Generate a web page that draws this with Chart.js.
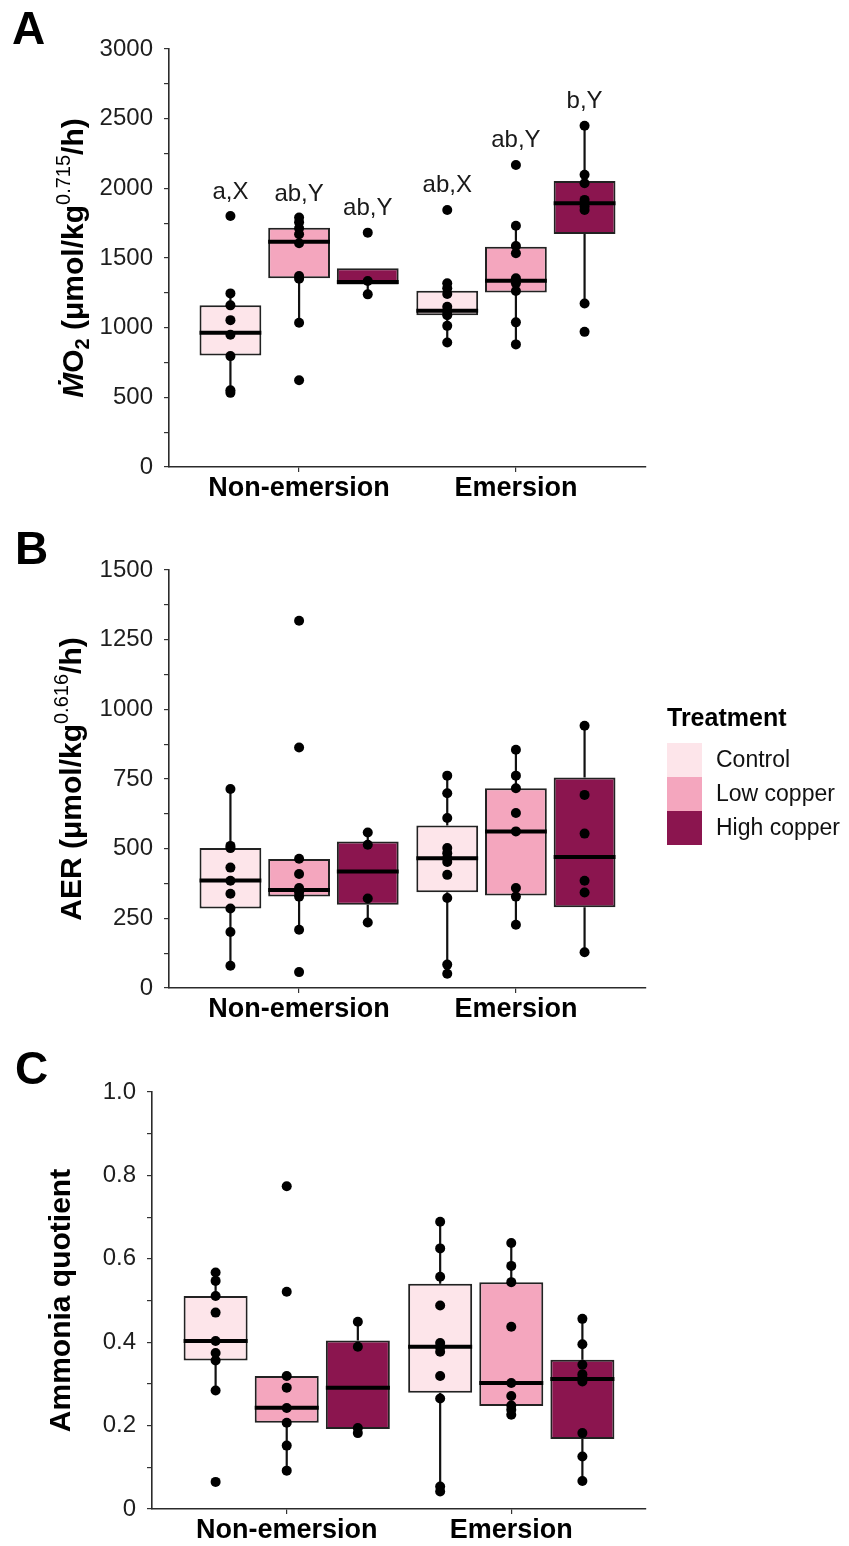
<!DOCTYPE html>
<html>
<head>
<meta charset="utf-8">
<title>Metabolic rates by treatment</title>
<script src="https://cdn.jsdelivr.net/npm/chart.js@4.4.1/dist/chart.umd.min.js"></script>
<style>
  body { margin: 0; background: #fff; width: 849px; height: 1546px; overflow: hidden; }
  canvas { display: block; }
</style>
</head>
<body>
<canvas id="grafico-mo2" width="849" height="520"></canvas>
<canvas id="grafico-aer" width="849" height="520"></canvas>
<canvas id="grafico-aq" width="849" height="506"></canvas>
<script>
const conditions = ['Non-emersion', 'Emersion'];
const treatments = ['Control', 'Low copper', 'High copper'];

// group order: Non-emersion (Control, Low, High), then Emersion (Control, Low, High)
// boxes are [lower whisker, q1, median, q3, upper whisker]

// Panel A - MO2
const mo2Points = [
    [1802, 1246, 1160, 1054, 949, 796, 551, 532],
    [1790, 1757, 1714, 1671, 1606, 1370, 1351, 1035, 623],
    [1682, 1335, 1239],
    [1845, 1318, 1282, 1241, 1150, 1114, 1090, 1013, 894],
    [2168, 1732, 1586, 1534, 1354, 1318, 1263, 1038, 880],
    [2449, 2097, 2037, 1917, 1869, 1845, 1174, 970]
];
const mo2Boxes = [
    [532, 800, 963, 1160, 1246],
    [1035, 1354, 1617, 1718, 1790],
    [1239, 1310, 1328, 1426, 1426],
    [894, 1090, 1121, 1265, 1318],
    [880, 1253, 1337, 1581, 1732],
    [1174, 1672, 1893, 2053, 2449]
];
const mo2Letters = ['a,X', 'ab,Y', 'ab,Y', 'ab,X', 'ab,Y', 'b,Y'];
const mo2LetterHeights = [1922, 1910, 1809, 1977, 2300, 2576];
const mo2TickLabels = ['0', '500', '1000', '1500', '2000', '2500', '3000'];

// Panel B - AER
const aerPoints = [
    [714, 510, 502, 432, 385, 338, 285, 201, 80],
    [1318, 863, 464, 409, 359, 343, 328, 209, 57],
    [558, 514, 321, 235],
    [762, 699, 610, 502, 484, 466, 452, 406, 323, 84, 51],
    [855, 762, 717, 628, 562, 359, 328, 227],
    [941, 693, 554, 385, 343, 128]
];
const aerBoxes = [
    [80, 285, 386, 502, 714],
    [209, 328, 352, 463, 464],
    [235, 299, 418, 526, 558],
    [51, 344, 466, 583, 762],
    [227, 332, 562, 717, 855],
    [128, 290, 470, 755, 941]
];
const aerTickLabels = ['0', '250', '500', '750', '1000', '1250', '1500'];

// Panel C - Ammonia quotient
const aqPoints = [
    [0.567, 0.547, 0.511, 0.471, 0.403, 0.374, 0.356, 0.284, 0.065],
    [0.774, 0.521, 0.319, 0.291, 0.242, 0.207, 0.152, 0.092],
    [0.449, 0.389, 0.194, 0.182],
    [0.689, 0.625, 0.557, 0.488, 0.398, 0.388, 0.377, 0.319, 0.265, 0.054, 0.042],
    [0.638, 0.583, 0.544, 0.437, 0.302, 0.271, 0.248, 0.238, 0.226],
    [0.456, 0.395, 0.346, 0.323, 0.315, 0.306, 0.182, 0.126, 0.067]
];
const aqBoxes = [
    [0.284, 0.356, 0.403, 0.511, 0.567],
    [0.092, 0.207, 0.243, 0.319, 0.319],
    [0.182, 0.192, 0.291, 0.404, 0.449],
    [0.042, 0.279, 0.389, 0.540, 0.689],
    [0.226, 0.247, 0.302, 0.544, 0.638],
    [0.067, 0.168, 0.312, 0.358, 0.456]
];
const aqTickLabels = ['0', '0.2', '0.4', '0.6', '0.8', '1.0'];

const treatmentColors = ['#FDE5EA', '#F4A6BE', '#8B154F'];
const FONT = '"Liberation Sans", Arial, Helvetica, sans-serif';
const DODGE = 0.3167;
const BOX_HALF = 0.1425;

Chart.defaults.font.family = FONT;

function groupCentre(g) {
    const cond = Math.floor(g / 3);
    const trt = g % 3;
    return cond + 1 + (trt - 1) * DODGE;
}

function buildDatasets(points, boxes) {
    const dots = [], medians = [], whiskers = [], bars = [];
    boxes.forEach((b, g) => {
        const c = groupCentre(g);
        const [lo, q1, med, q3, hi] = b;
        bars.push({ x: c, y: [q1, q3] });
        medians.push({ x: c - BOX_HALF, y: med }, { x: c + BOX_HALF, y: med }, { x: c, y: null });
        whiskers.push({ x: c, y: lo }, { x: c, y: q1 }, { x: c, y: null },
                      { x: c, y: q3 }, { x: c, y: hi }, { x: c, y: null });
        points[g].forEach(v => dots.push({ x: c, y: v }));
    });
    return [
        { type: 'line', data: dots, showLine: false, pointRadius: 5, pointBackgroundColor: '#000',
          pointBorderWidth: 0, order: 0 },
        { type: 'line', data: medians, borderColor: '#000', borderWidth: 4, pointRadius: 0,
          spanGaps: false, order: 1 },
        { type: 'bar', data: bars, backgroundColor: boxes.map((b, g) => treatmentColors[g % 3]),
          borderColor: '#222', borderWidth: 2, borderSkipped: false,
          categoryPercentage: 1, barPercentage: 0.9, order: 2 },
        { type: 'line', data: whiskers, borderColor: '#111', borderWidth: 2.2, pointRadius: 0,
          spanGaps: false, order: 3 }
    ];
}

function drawRotatedTitle(ctx, parts, x, y) {
    ctx.save();
    ctx.translate(x, y);
    ctx.rotate(-Math.PI / 2);
    ctx.textAlign = 'left';
    ctx.textBaseline = 'alphabetic';
    ctx.fillStyle = '#000';
    let total = 0;
    parts.forEach(p => { ctx.font = p.font; p.w = ctx.measureText(p.text).width; total += p.w; });
    let cx = -total / 2;
    parts.forEach(p => { ctx.font = p.font; ctx.fillText(p.text, cx, p.shift || 0); cx += p.w; });
    ctx.restore();
}

function drawLegend(ctx) {
    ctx.save();
    ctx.fillStyle = '#000';
    ctx.font = `bold 25px ${FONT}`;
    ctx.textAlign = 'left';
    ctx.textBaseline = 'alphabetic';
    ctx.fillText('Treatment', 667, 206);
    treatments.forEach((t, i) => {
        ctx.fillStyle = treatmentColors[i];
        ctx.fillRect(667, 223 + i * 34, 35, 34);
        ctx.fillStyle = '#111';
        ctx.font = `23px ${FONT}`;
        ctx.textBaseline = 'middle';
        ctx.fillText(t, 716, 241 + i * 34);
    });
    ctx.restore();
}

function extrasPlugin(cfg) {
    return {
        id: 'extras',
        afterDraw(chart) {
            const ctx = chart.ctx;
            const area = chart.chartArea;
            ctx.save();
            ctx.fillStyle = '#000';
            ctx.font = `bold 46px ${FONT}`;
            ctx.textAlign = 'left';
            ctx.textBaseline = 'alphabetic';
            ctx.fillText(cfg.letter, cfg.letterX, 44);
            drawRotatedTitle(ctx, cfg.titleParts, cfg.titleX, (area.top + area.bottom) / 2);
            if (cfg.letters) {
                ctx.font = `24px ${FONT}`;
                ctx.fillStyle = '#1a1a1a';
                ctx.textAlign = 'center';
                cfg.letters.forEach((txt, g) => {
                    const x = chart.scales.x.getPixelForValue(groupCentre(g));
                    const y = chart.scales.y.getPixelForValue(cfg.letterHeights[g]);
                    ctx.fillText(txt, x, y);
                });
            }
            if (cfg.legend) drawLegend(ctx);
            ctx.restore();
        }
    };
}

function buildYTicks(labels) {
    const majors = labels.map(Number);
    const ticks = [];
    majors.forEach((v, i) => {
        ticks.push({ value: v });
        if (i < majors.length - 1) ticks.push({ value: (v + majors[i + 1]) / 2 });
    });
    return ticks;
}

function boxChart(id, cfg) {
    const ctx = document.getElementById(id).getContext('2d');
    const majors = cfg.tickLabels.map(Number);
    const axisGrid = { display: true, drawOnChartArea: false, drawTicks: true, tickLength: 5,
                       color: '#333', lineWidth: 1.2, offset: false };
    const axisBorder = { display: true, color: '#2b2b2b', width: 1.6 };
    return new Chart(ctx, {
        type: 'bar',
        data: { datasets: buildDatasets(cfg.points, cfg.boxes) },
        options: {
            responsive: false,
            animation: false,
            events: [],
            layout: { padding: { top: cfg.top, right: 203, left: 0, bottom: 0 } },
            plugins: { legend: { display: false }, tooltip: { enabled: false } },
            scales: {
                x: {
                    type: 'linear', min: 0.4, max: 2.6, offset: false,
                    afterBuildTicks: s => { s.ticks = conditions.map((c, i) => ({ value: i + 1 })); },
                    afterFit: s => { s.height = cfg.xHeight; },
                    grid: axisGrid,
                    border: axisBorder,
                    ticks: {
                        color: '#000', padding: 0, maxRotation: 0, autoSkip: false,
                        font: { size: 27, weight: 'bold' },
                        callback: v => conditions[Math.round(v) - 1]
                    }
                },
                y: {
                    type: 'linear', min: majors[0], max: majors[majors.length - 1],
                    afterBuildTicks: s => { s.ticks = buildYTicks(cfg.tickLabels); },
                    afterFit: s => { s.width = cfg.left; },
                    grid: axisGrid,
                    border: axisBorder,
                    ticks: {
                        color: '#1e1e1e', padding: 11, autoSkip: false,
                        font: { size: 24 },
                        callback: v => {
                            const i = majors.findIndex(m => Math.abs(m - v) < 1e-9);
                            return i >= 0 ? cfg.tickLabels[i] : '';
                        }
                    }
                }
            }
        },
        plugins: [extrasPlugin(cfg)]
    });
}

function carregarGraficos() {
    boxChart('grafico-mo2', {
        points: mo2Points, boxes: mo2Boxes, tickLabels: mo2TickLabels,
        top: 49, xHeight: 53, left: 169,
        letter: 'A', letterX: 12, titleX: 83,
        titleParts: [
            { text: '\u1E40', font: `italic bold 30px ${FONT}` },
            { text: 'O', font: `bold 30px ${FONT}` },
            { text: '2', font: `bold 20px ${FONT}`, shift: 6 },
            { text: ' (\u03BCmol/kg', font: `bold 30px ${FONT}` },
            { text: '0.715', font: `20px ${FONT}`, shift: -13 },
            { text: '/h)', font: `bold 30px ${FONT}` }
        ],
        letters: mo2Letters, letterHeights: mo2LetterHeights
    });

    boxChart('grafico-aer', {
        points: aerPoints, boxes: aerBoxes, tickLabels: aerTickLabels,
        top: 50, xHeight: 52, left: 169,
        letter: 'B', letterX: 15, titleX: 81,
        titleParts: [
            { text: 'AER (\u03BCmol/kg', font: `bold 30px ${FONT}` },
            { text: '0.616', font: `20px ${FONT}`, shift: -13 },
            { text: '/h)', font: `bold 30px ${FONT}` }
        ],
        legend: true
    });

    boxChart('grafico-aq', {
        points: aqPoints, boxes: aqBoxes, tickLabels: aqTickLabels,
        top: 52, xHeight: 37, left: 152,
        letter: 'C', letterX: 15, titleX: 70,
        titleParts: [
            { text: 'Ammonia quotient', font: `bold 30px ${FONT}` }
        ]
    });
}

document.addEventListener('DOMContentLoaded', carregarGraficos);
</script>
</body>
</html>
